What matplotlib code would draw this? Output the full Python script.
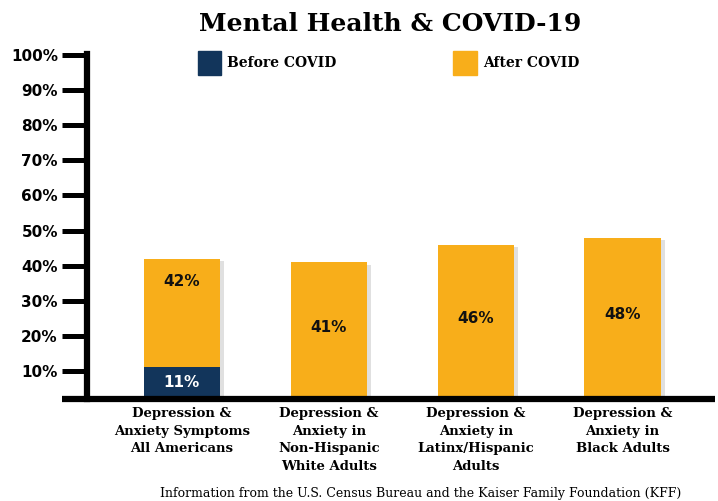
import matplotlib.pyplot as plt
import matplotlib.patheffects as pe

categories = [
    "Depression &\nAnxiety Symptoms\nAll Americans",
    "Depression &\nAnxiety in\nNon-Hispanic\nWhite Adults",
    "Depression &\nAnxiety in\nLatinx/Hispanic\nAdults",
    "Depression &\nAnxiety in\nBlack Adults",
]
after_covid = [42, 41, 46, 48]
before_covid = [11, None, None, None]
yticks = [10, 20, 30, 40, 50, 60, 70, 80, 90, 100]

navy = "#12355b"
orange = "#f8ae1a"
slab = "DejaVu Serif"
sans = "DejaVu Sans"

fig = plt.figure(figsize=(7.18, 5.01), dpi=100)
ax = fig.add_axes([0.1212, 0.2036, 0.8748, 0.688])

shadow = [pe.SimplePatchShadow(offset=(3, -2), shadow_rgbFace="#999999", alpha=0.3), pe.Normal()]

x = list(range(len(categories)))
bars = ax.bar(x, after_covid, width=0.52, color=orange, zorder=2)
for b in bars:
    b.set_path_effects(shadow)

for i, v in enumerate(before_covid):
    if v is None:
        continue
    ax.bar(i, v, width=0.52, color=navy, zorder=3)
    ax.text(i, v / 2 + 1.3, f"{v}%", ha="center", va="center", color="white",
            fontsize=11, fontweight="bold", family=sans, zorder=4)

for i, v in enumerate(after_covid):
    y = v - 6.5 if before_covid[i] is not None else v / 2 + 2
    ax.text(i, y, f"{v}%", ha="center", va="center", color="#111111",
            fontsize=11, fontweight="bold", family=sans, zorder=4)

ax.set_xlim(-0.646, 3.63)
ax.set_ylim(2.0, 100.2)
ax.set_yticks(yticks)
ax.set_yticklabels([f"{t}%" for t in yticks], fontsize=11, fontweight="bold", family=sans)
ax.tick_params(axis="y", length=18, width=3.6, pad=3, color="black")
ax.set_xticks(x)
ax.set_xticklabels(categories, fontsize=9.5, fontweight="bold", family=slab, linespacing=1.45)
ax.tick_params(axis="x", length=0, pad=6)

for s in ["top", "right", "bottom"]:
    ax.spines[s].set_visible(False)
ax.spines["left"].set_linewidth(4.5)
ax.plot([-0.04, 1.0], [0, 0], transform=ax.transAxes, color="black", lw=4.5,
        clip_on=False, solid_capstyle="butt", zorder=5)

fig.text(0.543, 0.952, "Mental Health & COVID-19", ha="center", va="center",
         fontsize=18, fontweight="heavy", family=slab)

# legend
fig.patches.append(plt.Rectangle((198 / 718, 1 - 75 / 501), 23 / 718, 24 / 501,
                                 transform=fig.transFigure, color=navy))
fig.text(227 / 718, 1 - 63 / 501, "Before COVID", ha="left", va="center",
         fontsize=10, fontweight="bold", family=slab)
fig.patches.append(plt.Rectangle((453 / 718, 1 - 75 / 501), 24 / 718, 24 / 501,
                                 transform=fig.transFigure, color=orange))
fig.text(483 / 718, 1 - 63 / 501, "After COVID", ha="left", va="center",
         fontsize=10, fontweight="bold", family=slab)

fig.text(421 / 718, 1 - 494 / 501,
         "Information from the U.S. Census Bureau and the Kaiser Family Foundation (KFF)",
         ha="center", va="center", fontsize=9, family=slab)

fig.savefig("out.png", dpi=100)
